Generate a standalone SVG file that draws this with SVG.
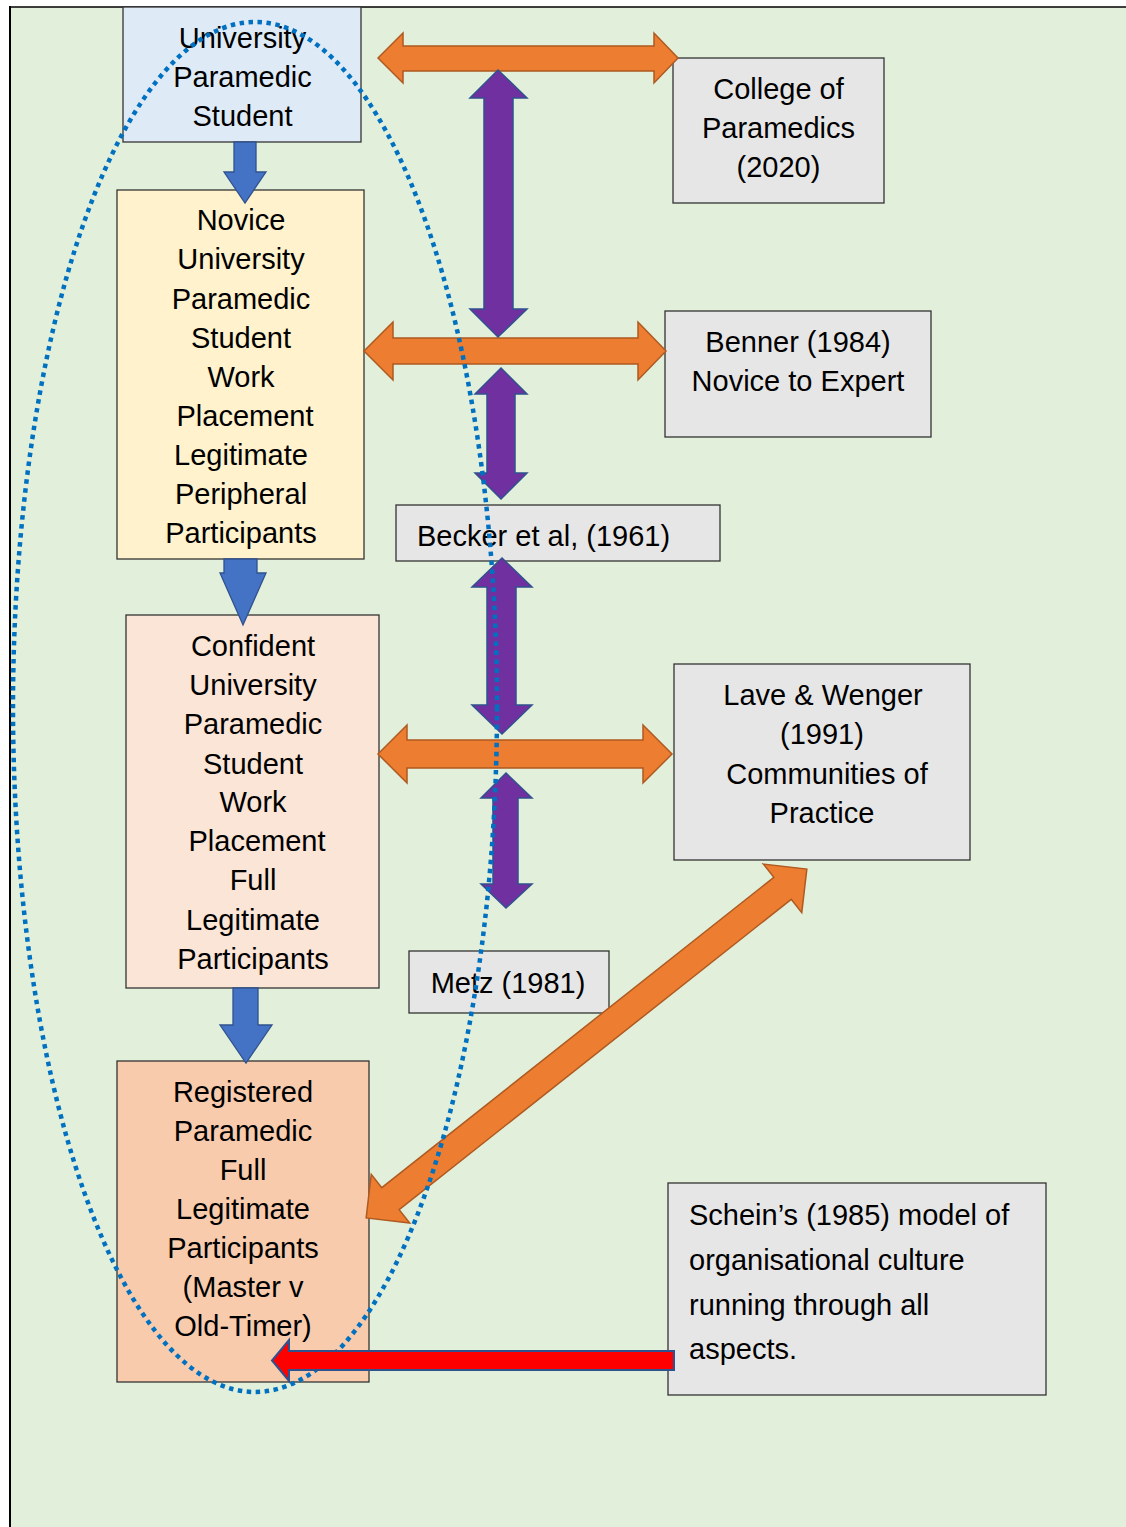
<svg xmlns="http://www.w3.org/2000/svg" width="1126" height="1527" viewBox="0 0 1126 1527">
<style>
.t{font-family:"Liberation Sans",Arial,sans-serif;font-size:29px;fill:#000;text-anchor:middle}
.l{text-anchor:start}
.box{stroke:#333;stroke-width:1.3}
.blue{fill:#4472C4;stroke:#2F528F;stroke-width:1.3}
.orange{fill:#ED7D31;stroke:#AE5A21;stroke-width:1.5}
.purple{fill:#7030A0;stroke:#2F528F;stroke-width:1.5}
.gray{fill:#E7E6E6}
</style>
<rect x="0" y="0" width="1126" height="1527" fill="#fff"/>
<rect x="10" y="7" width="1120" height="1525" fill="#E2EFDA"/>
<line x1="10" y1="7" x2="1126" y2="7" stroke="#000" stroke-width="1.5"/>
<line x1="10" y1="6" x2="10" y2="1527" stroke="#000" stroke-width="2"/>

<g id="node-student">
<rect class="box" x="123" y="7" width="238" height="135" fill="#DEEBF7"/>
<text class="t" x="242.5" y="48">University</text>
<text class="t" x="242.5" y="87">Paramedic</text>
<text class="t" x="242.5" y="126">Student</text>
</g>
<g id="node-novice">
<rect class="box" x="117" y="190" width="247" height="369" fill="#FFF2CC"/>
<text class="t" x="241" y="230">Novice</text>
<text class="t" x="241" y="269">University</text>
<text class="t" x="241" y="309">Paramedic</text>
<text class="t" x="241" y="348">Student</text>
<text class="t" x="241" y="387">Work</text>
<text class="t" x="245" y="426">Placement</text>
<text class="t" x="241" y="465">Legitimate</text>
<text class="t" x="241" y="504">Peripheral</text>
<text class="t" x="241" y="543">Participants</text>
</g>
<g id="node-confident">
<rect class="box" x="126" y="615" width="253" height="373" fill="#FBE5D6"/>
<text class="t" x="253" y="656">Confident</text>
<text class="t" x="253" y="695">University</text>
<text class="t" x="253" y="734">Paramedic</text>
<text class="t" x="253" y="774">Student</text>
<text class="t" x="253" y="812">Work</text>
<text class="t" x="257" y="851">Placement</text>
<text class="t" x="253" y="890">Full</text>
<text class="t" x="253" y="930">Legitimate</text>
<text class="t" x="253" y="969">Participants</text>
</g>
<g id="node-registered">
<rect class="box" x="117" y="1061" width="252" height="321" fill="#F8CBAD"/>
<text class="t" x="243" y="1102">Registered</text>
<text class="t" x="243" y="1141">Paramedic</text>
<text class="t" x="243" y="1180">Full</text>
<text class="t" x="243" y="1219">Legitimate</text>
<text class="t" x="243" y="1258">Participants</text>
<text class="t" x="243" y="1297">(Master v</text>
<text class="t" x="243" y="1336">Old-Timer)</text>
</g>
<g id="node-college">
<rect class="box gray" x="673" y="58" width="211" height="145"/>
<text class="t" x="778.5" y="99">College of</text>
<text class="t" x="778.5" y="138">Paramedics</text>
<text class="t" x="778.5" y="177">(2020)</text>
</g>
<g id="node-benner">
<rect class="box gray" x="665" y="311" width="266" height="126"/>
<text class="t" x="798" y="352">Benner (1984)</text>
<text class="t" x="798" y="391">Novice to Expert</text>
</g>
<g id="node-becker">
<rect class="box gray" x="396" y="505" width="324" height="56"/>
<text class="t l" x="417" y="546">Becker et al, (1961)</text>
</g>
<g id="node-lave">
<rect class="box gray" x="674" y="664" width="296" height="196"/>
<text class="t" x="823" y="705">Lave &amp; Wenger</text>
<text class="t" x="822" y="744">(1991)</text>
<text class="t" x="827" y="784">Communities of</text>
<text class="t" x="822" y="823">Practice</text>
</g>
<g id="node-metz">
<rect class="box gray" x="409" y="951" width="200" height="62"/>
<text class="t" x="508" y="993">Metz (1981)</text>
</g>
<g id="node-schein">
<rect class="box gray" x="668" y="1183" width="378" height="212"/>
<text class="t l" x="689" y="1225">Schein’s (1985) model of</text>
<text class="t l" x="689" y="1270">organisational culture</text>
<text class="t l" x="689" y="1315">running through all</text>
<text class="t l" x="689" y="1359">aspects.</text>
</g>

<g id="connectors">
<polygon class="blue" points="234,142 256,142 256,172 266,172 245,203 224,172 234,172"/>
<polygon class="blue" points="224,559 257,559 257,573 266,573 243,625 220,573 224,573"/>
<polygon class="blue" points="233,988 258,988 258,1025 272,1025 246,1063 220,1025 233,1025"/>
<polygon class="orange" points="378,58 403,33 403,46 654,46 654,33 678,58 654,83 654,71 403,71 403,83"/>
<polygon class="orange" points="364,351 393,322 393,338 638,338 638,322 666,351 638,380 638,364 393,364 393,380"/>
<polygon class="orange" points="378,754 407,725 407,740 643,740 643,725 672,754 643,783 643,768 407,768 407,783"/>
<polygon class="purple" points="498,70 527,98 513,98 513,309 527,309 498,337 470,309 484,309 484,98 470,98"/>
<polygon class="purple" points="501,368 527,394 515,394 515,473 527,473 501,499 475,473 487,473 487,394 475,394"/>
<polygon class="purple" points="502,558 532,587 516,587 516,705 532,705 502,734 472,705 487,705 487,587 472,587"/>
<polygon class="purple" points="506,773 532,798 518,798 518,884 532,884 506,908 481,884 493,884 493,798 481,798"/>
<polygon class="orange" transform="translate(586.5,1043.5) rotate(-38.36)" points="-281,0 -250,-31 -250,-14 250,-14 250,-31 281,0 250,31 250,14 -250,14 -250,31"/>
</g>

<g id="boundary">
<ellipse cx="255" cy="707" rx="242" ry="685" fill="none" stroke="#0070C0" stroke-width="4.5" stroke-dasharray="4.5 4.5"/>
</g>

<g id="connector-schein">
<polygon points="674,1351 289,1351 289,1340 272,1360.5 289,1381 289,1370 674,1370" fill="#FF0000" stroke="#2F528F" stroke-width="2"/>
</g>
</svg>
